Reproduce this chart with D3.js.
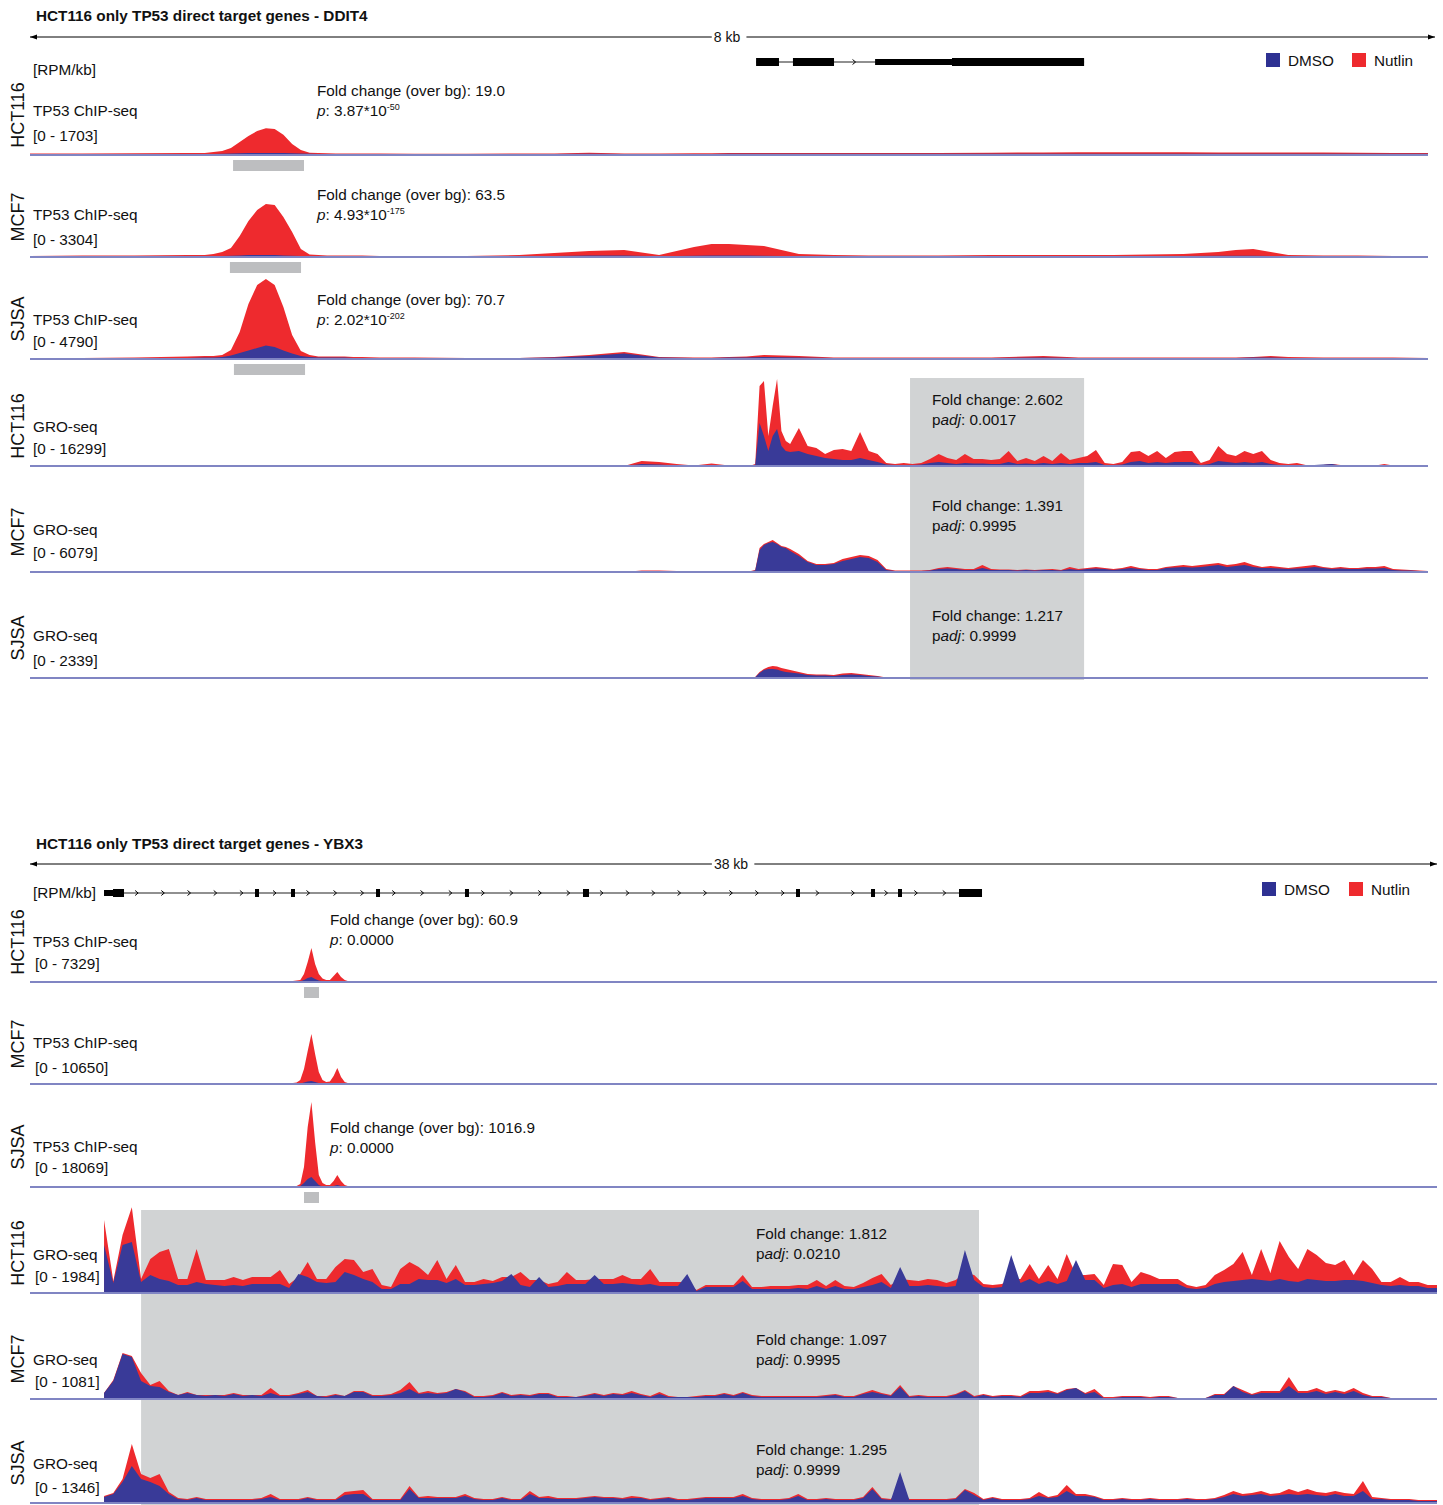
<!DOCTYPE html>
<html>
<head>
<meta charset="utf-8">
<script src="https://cdn.jsdelivr.net/npm/d3@7"></script>
<style>
  body { margin: 0; background: #fff; }
  svg { display: block; font-family: 'Liberation Sans', Arial, sans-serif; }
</style>
</head>
<body>
<div class="Canvas"></div>
<script>
// ---------- DDIT4 region (8 kb), positions in bp from region start, values in RPM/kb ----------
const ddit4Span = 8000;
const ddit4Exons = [[4155, 4286, 'cds'], [4366, 4601, 'cds'], [4836, 5276, 'utr'], [5276, 6032, 'cds']];
const ddit4PeakCalls = [[1162, 1568], [1144, 1551], [1167, 1574]];
const ddit4GroWindow = [5036, 6032];

const ddit4ChipPos = [0,300,600,900,1000,1050,1100,1150,1200,1250,1300,1350,1400,1450,1500,1550,1600,1650,1700,1750,1800,1850,1900,2000,2200,2500,2800,3000,3200,3400,3600,3800,3900,4000,4100,4200,4400,4600,4800,5000,5200,5500,5800,6000,6200,6400,6600,6800,6900,7000,7100,7200,7400,7600,7800,8000];
const ddit4ChipHct116Nutlin = [30,30,35,40,40,58,77,135,250,370,465,520,505,390,215,95,45,40,35,30,30,30,30,30,25,25,30,30,45,30,30,35,35,40,40,40,40,40,40,40,40,45,50,55,55,55,55,50,50,50,50,50,50,45,40,40];
const ddit4ChipHct116Dmso = [20,20,20,20,20,20,25,30,35,38,40,40,40,38,35,30,25,20,20,20,20,20,20,20,20,20,20,20,25,20,20,20,20,25,25,25,25,25,25,25,25,25,25,25,25,25,25,25,25,25,25,25,25,25,25,25];
const ddit4ChipMcf7Nutlin = [38,56,56,75,75,113,188,338,788,1350,1763,1988,1950,1500,938,300,94,75,56,56,56,56,56,38,38,38,75,150,225,263,75,375,488,488,450,413,113,75,56,56,56,75,75,75,75,94,113,188,263,300,188,75,56,56,38,38];
const ddit4ChipMcf7Dmso = [30,30,30,30,30,30,38,45,60,75,75,75,75,60,45,38,30,30,30,30,30,30,30,30,30,30,30,38,56,56,30,45,56,56,56,45,30,30,30,30,30,30,30,30,30,30,38,45,45,45,38,30,30,30,30,30];
const ddit4ChipSjsaNutlin = [54,54,82,136,163,163,218,490,1469,2992,4026,4352,4026,2829,1306,435,218,136,136,136,136,109,109,82,82,54,54,109,218,381,109,82,82,109,136,218,163,82,82,82,82,82,163,82,82,82,82,82,82,109,163,109,82,82,82,54];
const ddit4ChipSjsaDmso = [54,54,54,54,82,82,109,190,326,462,598,734,653,462,300,163,109,82,82,82,82,54,54,54,54,54,54,82,163,300,82,54,54,82,82,109,82,54,54,54,54,54,82,54,54,54,54,54,54,82,82,54,54,54,54,54];

const ddit4GroPos = [0,3000,3400,3500,3600,3700,3800,3900,4000,4100,4125,4150,4175,4200,4225,4250,4275,4300,4325,4350,4400,4450,4500,4550,4600,4650,4700,4750,4800,4850,4900,4950,5000,5050,5100,5150,5200,5250,5300,5350,5400,5450,5500,5550,5600,5650,5700,5750,5800,5850,5900,5950,6000,6050,6100,6150,6200,6250,6300,6350,6400,6450,6500,6550,6600,6650,6700,6750,6800,6850,6900,6950,7000,7050,7100,7150,7200,7250,7300,7350,7400,7450,7500,7550,7600,7650,7700,7750,7800,7850,7900,7950,8000];
const ddit4GroHct116Nutlin = [0,0,0,925,740,370,90,460,90,90,90,370,14800,15725,5550,11100,16095,6475,4625,4070,7030,3700,3330,2220,2960,3145,2775,6290,2775,2220,555,370,555,370,555,1295,2220,1480,1110,2220,1295,1295,1110,1295,2775,925,1480,925,1850,925,2405,1110,1480,1850,2960,555,370,740,2590,2775,1850,2775,1480,2590,2775,2775,555,1110,3700,2220,1850,2775,2220,2775,1110,555,370,555,185,185,185,370,185,90,90,90,90,370,90,55,55,55,55];
const ddit4GroHct116Dmso = [0,0,0,370,280,90,0,185,0,0,0,185,7955,5550,2775,5550,6845,3700,2775,2590,2775,2220,1850,1480,1295,1110,1110,1480,1110,740,280,185,185,185,280,555,740,555,370,555,460,460,370,370,740,370,460,370,555,370,555,370,555,555,740,185,185,280,740,925,555,740,555,740,740,740,185,370,925,740,555,740,555,740,370,185,90,185,90,185,280,370,90,55,55,55,55,55,55,55,55,55,55];
const ddit4GroMcf7Nutlin = [0,0,0,104,104,69,69,69,69,69,69,138,1656,1932,2070,2208,2001,1794,1725,1587,1242,759,552,552,621,897,1035,1173,1104,828,207,104,104,104,104,138,276,345,276,207,207,483,207,173,173,138,173,138,173,207,138,345,207,276,345,276,207,276,414,276,207,207,345,414,483,414,483,552,621,483,552,690,483,345,414,345,276,345,414,483,345,276,345,276,276,345,345,414,207,173,138,104,69];
const ddit4GroMcf7Dmso = [0,0,0,69,69,48,48,48,48,48,48,104,1518,1863,2001,2070,1932,1725,1656,1449,1104,690,483,483,552,759,897,1035,966,690,138,69,69,69,69,104,207,242,207,138,138,276,138,138,138,104,138,104,138,138,104,207,138,207,242,207,138,207,276,207,138,138,276,311,345,311,345,414,483,345,414,483,345,276,276,242,207,242,276,345,276,207,242,207,207,242,242,276,138,104,104,69,48];
const ddit4GroSjsaNutlin = [0,0,0,8,8,8,8,8,8,8,8,27,160,239,293,319,306,266,239,213,160,106,93,93,80,120,133,106,80,53,13,8,8,8,8,8,8,8,8,8,8,8,8,8,8,8,8,8,8,8,8,8,8,8,8,8,8,8,8,8,8,8,8,8,8,8,8,8,8,8,8,8,8,8,8,8,8,8,8,8,8,8,8,8,8,8,8,8,8,8,8,8,8];
const ddit4GroSjsaDmso = [0,0,0,8,8,8,8,8,8,8,8,20,133,213,239,239,226,186,160,146,120,80,67,67,53,80,93,80,53,40,8,8,8,8,8,8,8,8,8,8,8,8,8,8,8,8,8,8,8,8,8,8,8,8,8,8,8,8,8,8,8,8,8,8,8,8,8,8,8,8,8,8,8,8,8,8,8,8,8,8,8,8,8,8,8,8,8,8,8,8,8,8,8];

// ---------- YBX3 region (38 kb) ----------
const ybx3Span = 38000;
const ybx3Exons = [[1999, 2242, 'utr'], [2242, 2539, 'cds'], [6077, 6185, 'cds'], [7049, 7157, 'cds'], [9345, 9453, 'cds'], [11748, 11856, 'cds'], [14935, 15098, 'cds'], [20688, 20796, 'cds'], [22714, 22822, 'cds'], [23443, 23551, 'cds'], [25090, 25712, 'cds']];
const ybx3PeakCalls = [[7400, 7805], null, [7400, 7805]];
const ybx3GroWindow = [3000, 25630];

const ybx3ChipPos = [0,2000,4000,6000,6800,7000,7100,7200,7300,7400,7500,7600,7700,7800,7900,8000,8100,8200,8300,8400,8500,8600,8800,9000,10000,12000,15000,20000,25000,30000,35000,38000];
const ybx3ChipHct116Nutlin = [43,43,43,60,68,85,85,128,170,682,1704,2897,1534,682,298,170,170,511,852,426,170,68,43,43,43,43,43,43,43,43,43,43];
const ybx3ChipHct116Dmso = [43,43,43,43,43,43,43,43,60,170,341,426,256,128,60,43,43,43,85,43,43,43,43,43,43,43,43,43,43,43,43,43];
const ybx3ChipMcf7Nutlin = [62,62,62,74,87,124,124,186,495,1857,4085,6190,3714,1486,495,248,310,990,1981,867,248,87,62,62,62,62,62,62,62,62,62,62];
const ybx3ChipMcf7Dmso = [62,62,62,62,62,62,62,62,74,186,310,371,248,124,74,62,62,62,74,62,62,62,62,62,62,62,62,62,62,62,62,62];
const ybx3ChipSjsaNutlin = [105,105,105,126,147,168,168,210,630,4200,12600,17850,9450,2520,840,420,420,1260,2520,1260,420,147,105,105,105,105,105,105,105,105,105,105];
const ybx3ChipSjsaDmso = [105,105,105,105,105,105,105,105,210,840,1680,2100,1260,420,105,105,105,210,420,210,105,105,105,105,105,105,105,105,105,105,105,105];

// GRO-seq, 250 bp bins starting at 2 kb
const ybx3GroBinStart = 2000;
const ybx3GroBinSize = 250;
const ybx3GroHct116Nutlin = [
  1686,277,1340,1980,323,785,947,1016,323,323,
  1016,300,300,300,370,300,370,370,370,531,
  208,370,716,323,323,601,785,762,485,554,
  185,139,554,716,601,416,762,323,647,254,
  254,323,277,370,370,485,300,300,208,254,
  485,300,300,323,323,323,416,323,323,554,
  254,254,254,254,69,185,185,185,185,416,
  139,139,162,162,162,185,185,300,162,300,
  162,139,231,347,439,185,323,300,277,323,
  300,231,300,462,416,208,185,208,323,323,
  670,323,647,323,901,416,416,439,185,670,
  647,254,485,416,323,323,323,185,139,185,
  416,531,670,947,416,1016,462,1201,832,554,
  1016,878,693,647,762,416,762,554,254,254,
  370,254,254,185,185];
const ybx3GroHct116Dmso = [
  1109,231,1109,1178,254,416,323,277,185,185,
  254,208,185,162,185,162,208,208,208,208,
  116,439,370,254,231,254,485,416,323,254,
  92,92,208,208,323,300,300,231,323,185,
  185,208,231,277,439,185,139,370,139,162,
  208,208,208,416,208,208,231,208,185,208,
  162,162,162,439,46,139,139,139,139,277,
  92,92,92,92,92,116,92,162,92,162,
  92,92,139,185,254,116,601,162,162,185,
  162,139,162,993,300,139,116,139,878,231,
  323,208,277,208,277,762,300,300,116,185,
  208,139,208,208,208,208,208,116,92,116,
  208,254,277,300,323,300,277,323,277,254,
  323,300,277,277,300,300,277,231,185,162,
  185,162,162,116,116];
const ybx3GroMcf7Nutlin = [
  75,239,578,541,327,176,226,101,50,88,
  50,50,50,50,75,50,50,50,138,50,
  50,75,113,38,38,63,38,101,101,50,
  50,63,113,214,75,101,75,88,126,101,
  38,38,50,88,50,63,50,75,75,38,
  38,25,50,75,50,75,63,101,63,38,
  88,38,25,25,38,50,50,75,50,88,
  50,38,38,38,38,38,38,38,50,63,
  38,38,75,113,75,50,176,38,50,38,
  38,38,63,113,38,63,38,50,50,38,
  101,101,113,75,126,138,75,126,25,25,
  38,38,38,25,38,38,13,13,13,13,
  63,63,163,113,63,101,101,101,277,101,
  101,138,88,113,88,138,75,38,38,13,
  13,13,13,13,13];
const ybx3GroMcf7Dmso = [
  75,226,566,528,226,163,151,88,50,75,
  50,38,50,38,63,38,50,38,75,38,
  38,63,88,38,25,50,38,88,88,38,
  38,50,75,126,63,75,63,75,126,88,
  25,25,38,75,38,50,38,63,63,25,
  25,25,38,63,38,63,50,75,50,25,
  63,25,25,25,25,38,38,63,38,75,
  38,25,25,25,25,25,25,25,38,50,
  25,25,63,88,63,38,151,25,38,25,
  25,25,50,101,25,50,25,38,38,25,
  75,75,88,63,113,138,63,88,13,13,
  25,25,25,13,25,25,13,13,13,13,
  50,50,163,88,50,75,75,75,163,75,
  75,101,63,88,63,101,50,25,25,13,
  13,13,13,13,13];
const ybx3GroSjsaNutlin = [
  110,157,376,923,454,391,454,172,78,63,
  94,63,63,63,63,63,63,78,141,63,
  63,63,94,63,63,63,172,188,203,63,
  63,63,63,266,94,110,94,94,94,141,
  78,63,63,94,63,63,188,94,110,78,
  78,78,94,110,94,94,78,110,94,63,
  78,94,63,63,78,94,94,94,94,141,
  78,63,63,63,78,141,63,63,78,63,
  63,63,94,250,78,63,219,63,63,63,
  63,63,78,219,157,63,94,63,63,63,
  78,172,94,125,282,141,141,110,63,63,
  78,63,63,78,63,63,63,78,63,63,
  78,125,188,141,157,188,141,157,219,172,
  219,172,157,188,157,141,344,94,78,63,
  63,63,47,47,47];
const ybx3GroSjsaDmso = [
  94,141,329,579,376,329,266,141,63,47,
  78,47,47,47,47,47,47,63,94,47,
  47,47,78,47,47,47,125,141,141,47,
  47,47,47,219,78,78,78,78,78,110,
  63,47,47,78,47,47,141,78,78,63,
  63,63,78,94,78,78,63,78,78,47,
  63,78,47,47,63,78,78,78,78,110,
  63,47,47,47,63,110,47,47,63,47,
  47,47,78,219,63,47,485,47,47,47,
  47,47,63,203,125,47,78,47,47,47,
  63,110,78,94,188,110,110,94,47,47,
  63,47,47,63,47,47,47,63,47,47,
  63,94,141,110,125,141,110,125,141,125,
  141,125,110,141,110,110,188,63,63,47,
  47,47,31,31,31];

// ---------- drawing ----------
const width = 1443;
const height = 1505;
const fontSize = 15.3;
const nutlinColor = '#ee2a2e';
const dmsoColor = '#393a98';
const legendDmso = '#2e3192';
const baseColor = '#8085c3';
const boxColor = '#d1d3d4';
const peakColor = '#bdbec0';
const textColor = '#111';

const ybx3Bins = ybx3GroHct116Nutlin.map((d, i) => ybx3GroBinStart + i * ybx3GroBinSize);

const panels = [
  {
    title: 'HCT116 only TP53 direct target genes - DDIT4',
    scaleLabel: '8 kb', labelX: 727, span: ddit4Span,
    x0: 30, x1: 1428, barEnd: 1435,
    titleY: 21, scaleY: 37, geneY: 62, legendY: 53, legendX: [1266, 1352], rpmY: 75,
    trackH: 88, boxTop: 88, rangeX: 33,
    exons: ddit4Exons, groWindow: ddit4GroWindow,
    chipAnnX: 317, groAnnX: 932,
    tracks: [
      { cell: 'HCT116', name: 'TP53 ChIP-seq', max: 1703, base: 155, pos: ddit4ChipPos, nutlin: ddit4ChipHct116Nutlin, dmso: ddit4ChipHct116Dmso, peak: ddit4PeakCalls[0], nameDy: -39, rangeDy: -14,
        ann: { dy: -59, l1: 'Fold change (over bg): 19.0', l2: [['p', 'i'], [': 3.87*10'], ['-50', 'sup']] } },
      { cell: 'MCF7', name: 'TP53 ChIP-seq', max: 3304, base: 257, pos: ddit4ChipPos, nutlin: ddit4ChipMcf7Nutlin, dmso: ddit4ChipMcf7Dmso, peak: ddit4PeakCalls[1], nameDy: -37, rangeDy: -12,
        ann: { dy: -57, l1: 'Fold change (over bg): 63.5', l2: [['p', 'i'], [': 4.93*10'], ['-175', 'sup']] } },
      { cell: 'SJSA', name: 'TP53 ChIP-seq', max: 4790, base: 359, pos: ddit4ChipPos, nutlin: ddit4ChipSjsaNutlin, dmso: ddit4ChipSjsaDmso, peak: ddit4PeakCalls[2], nameDy: -34, rangeDy: -12,
        ann: { dy: -54, l1: 'Fold change (over bg): 70.7', l2: [['p', 'i'], [': 2.02*10'], ['-202', 'sup']] } },
      { cell: 'HCT116', name: 'GRO-seq', gro: true, max: 16299, base: 466, pos: ddit4GroPos, nutlin: ddit4GroHct116Nutlin, dmso: ddit4GroHct116Dmso, nameDy: -34, rangeDy: -12,
        ann: { dy: -61, l1: 'Fold change: 2.602', l2: [['p'], ['adj', 'i'], [': 0.0017']] } },
      { cell: 'MCF7', name: 'GRO-seq', gro: true, max: 6079, base: 572, pos: ddit4GroPos, nutlin: ddit4GroMcf7Nutlin, dmso: ddit4GroMcf7Dmso, nameDy: -37, rangeDy: -14,
        ann: { dy: -61, l1: 'Fold change: 1.391', l2: [['p'], ['adj', 'i'], [': 0.9995']] } },
      { cell: 'SJSA', name: 'GRO-seq', gro: true, max: 2339, base: 678, pos: ddit4GroPos, nutlin: ddit4GroSjsaNutlin, dmso: ddit4GroSjsaDmso, nameDy: -37, rangeDy: -12,
        ann: { dy: -57, l1: 'Fold change: 1.217', l2: [['p'], ['adj', 'i'], [': 0.9999']] } }
    ]
  },
  {
    title: 'HCT116 only TP53 direct target genes - YBX3',
    scaleLabel: '38 kb', labelX: 731, span: ybx3Span,
    x0: 30, x1: 1437, barEnd: 1437,
    titleY: 849, scaleY: 864, geneY: 893, legendY: 882, legendX: [1262, 1349], rpmY: 898,
    trackH: 86, boxTop: 83, rangeX: 35,
    exons: ybx3Exons, groWindow: ybx3GroWindow,
    chipAnnX: 330, groAnnX: 756,
    tracks: [
      { cell: 'HCT116', name: 'TP53 ChIP-seq', max: 7329, base: 982, pos: ybx3ChipPos, nutlin: ybx3ChipHct116Nutlin, dmso: ybx3ChipHct116Dmso, peak: ybx3PeakCalls[0], nameDy: -35, rangeDy: -13,
        ann: { dy: -57, l1: 'Fold change (over bg): 60.9', l2: [['p', 'i'], [': 0.0000']] } },
      { cell: 'MCF7', name: 'TP53 ChIP-seq', max: 10650, base: 1084, pos: ybx3ChipPos, nutlin: ybx3ChipMcf7Nutlin, dmso: ybx3ChipMcf7Dmso, peak: ybx3PeakCalls[1], nameDy: -36, rangeDy: -11 },
      { cell: 'SJSA', name: 'TP53 ChIP-seq', max: 18069, base: 1187, pos: ybx3ChipPos, nutlin: ybx3ChipSjsaNutlin, dmso: ybx3ChipSjsaDmso, peak: ybx3PeakCalls[2], nameDy: -35, rangeDy: -14,
        ann: { dy: -54, l1: 'Fold change (over bg): 1016.9', l2: [['p', 'i'], [': 0.0000']] } },
      { cell: 'HCT116', name: 'GRO-seq', gro: true, max: 1984, base: 1293, pos: ybx3Bins, nutlin: ybx3GroHct116Nutlin, dmso: ybx3GroHct116Dmso, nameDy: -33, rangeDy: -11,
        ann: { dy: -54, l1: 'Fold change: 1.812', l2: [['p'], ['adj', 'i'], [': 0.0210']] } },
      { cell: 'MCF7', name: 'GRO-seq', gro: true, max: 1081, base: 1399, pos: ybx3Bins, nutlin: ybx3GroMcf7Nutlin, dmso: ybx3GroMcf7Dmso, nameDy: -34, rangeDy: -12,
        ann: { dy: -54, l1: 'Fold change: 1.097', l2: [['p'], ['adj', 'i'], [': 0.9995']] } },
      { cell: 'SJSA', name: 'GRO-seq', gro: true, max: 1346, base: 1503, pos: ybx3Bins, nutlin: ybx3GroSjsaNutlin, dmso: ybx3GroSjsaDmso, nameDy: -34, rangeDy: -10,
        ann: { dy: -48, l1: 'Fold change: 1.295', l2: [['p'], ['adj', 'i'], [': 0.9999']] } }
    ]
  }
];

const svg = d3.select('.Canvas').append('svg').attr('width', width).attr('height', height);
svg.append('rect').attr('width', width).attr('height', height).attr('fill', '#fff');

const addText = (g, x, y, str, size, opts = {}) =>
  g.append('text')
    .attr('x', x).attr('y', y)
    .attr('font-size', size + 'px')
    .attr('font-weight', opts.bold ? 'bold' : null)
    .attr('text-anchor', opts.anchor || 'start')
    .attr('fill', textColor)
    .text(str);

const drawScaleBar = (g, p) => {
  const y = p.scaleY;
  g.append('line').attr('x1', p.x0).attr('x2', p.barEnd).attr('y1', y).attr('y2', y)
    .attr('stroke', '#000').attr('stroke-width', 1);
  g.append('path').attr('d', `M${p.x0},${y} l7,-2.5 l0,5 z`).attr('fill', '#000');
  g.append('path').attr('d', `M${p.barEnd},${y} l-7,-2.5 l0,5 z`).attr('fill', '#000');
  const gap = g.append('rect').attr('fill', '#fff');
  const label = addText(g, p.labelX, y + 5, p.scaleLabel, 14, { anchor: 'middle' });
  const bb = label.node().getBBox();
  gap.attr('x', bb.x - 2).attr('y', y - 3).attr('width', bb.width + 8).attr('height', 6);
};

const drawGene = (g, p, x) => {
  const y = p.geneY;
  const ex = p.exons;
  g.append('line').attr('x1', x(ex[0][0])).attr('x2', x(ex[ex.length - 1][1]))
    .attr('y1', y).attr('y2', y).attr('stroke', '#222').attr('stroke-width', 1.2);
  // direction chevrons in the introns
  for (let i = 0; i < ex.length - 1; i++) {
    const a = ex[i][1], b = ex[i + 1][0];
    const len = b - a;
    if (len < 150) continue;
    const n = Math.max(1, Math.floor(len / 660));
    for (let k = 0; k < n; k++) {
      const cx = x(a + (len * (k + 0.5)) / n);
      g.append('path').attr('d', `M${cx - 2},${y - 2.5} L${cx + 1},${y} L${cx - 2},${y + 2.5}`)
        .attr('fill', 'none').attr('stroke', '#000').attr('stroke-width', 1);
    }
  }
  g.selectAll('rect.exon').data(ex).enter().append('rect')
    .attr('class', 'exon')
    .attr('x', (d) => x(d[0]))
    .attr('width', (d) => Math.max(3, x(d[1]) - x(d[0])))
    .attr('y', (d) => y - (d[2] === 'utr' ? 3 : 4))
    .attr('height', (d) => (d[2] === 'utr' ? 6 : 8))
    .attr('fill', '#000');
};

const drawLegend = (g, p) => {
  const items = [['DMSO', legendDmso], ['Nutlin', nutlinColor]];
  items.forEach((it, i) => {
    const lx = p.legendX[i];
    g.append('rect').attr('x', lx).attr('y', p.legendY).attr('width', 14).attr('height', 14).attr('fill', it[1]);
    addText(g, lx + 22, p.legendY + 13, it[0], fontSize);
  });
};

const drawAnn = (g, x, y, ann) => {
  addText(g, x, y, ann.l1, fontSize);
  const t = g.append('text').attr('x', x).attr('y', y + 20).attr('font-size', fontSize + 'px').attr('fill', textColor);
  ann.l2.forEach((seg) => {
    const s = t.append('tspan').text(seg[0]);
    if (seg[1] === 'i') s.attr('font-style', 'italic');
    if (seg[1] === 'sup') s.attr('font-size', '9px').attr('dy', -6);
  });
};

panels.forEach((p) => {
  const g = svg.append('g');
  const x = d3.scaleLinear().domain([0, p.span]).range([p.x0, p.x1]);

  addText(g, 36, p.titleY, p.title, fontSize, { bold: true });
  drawScaleBar(g, p);
  drawGene(g, p, x);
  drawLegend(g, p);
  addText(g, 33, p.rpmY, '[RPM/kb]', fontSize);

  // GRO-seq gene-body window
  const groTracks = p.tracks.filter((t) => t.gro);
  const boxY0 = groTracks[0].base - p.boxTop;
  const boxY1 = groTracks[groTracks.length - 1].base;
  g.append('rect')
    .attr('x', x(p.groWindow[0])).attr('width', x(p.groWindow[1]) - x(p.groWindow[0]))
    .attr('y', boxY0).attr('height', boxY1 - boxY0 + 2)
    .attr('fill', boxColor);

  p.tracks.forEach((t) => {
    const y = d3.scaleLinear().domain([0, t.max]).range([t.base, t.base - p.trackH]).clamp(true);
    const rows = t.pos.map((pos, i) => ({ pos, n: t.nutlin[i], d: t.dmso[i] }));
    const area = (key) => d3.area().x((r) => x(r.pos)).y0(t.base).y1((r) => y(r[key]));

    if (t.peak) {
      g.append('rect').attr('x', x(t.peak[0])).attr('width', x(t.peak[1]) - x(t.peak[0]))
        .attr('y', t.base + 5).attr('height', 11).attr('fill', peakColor);
    }
    g.append('path').datum(rows).attr('fill', nutlinColor).attr('d', area('n'));
    g.append('path').datum(rows).attr('fill', dmsoColor).attr('d', area('d'));
    g.append('line').attr('x1', p.x0).attr('x2', p.x1).attr('y1', t.base).attr('y2', t.base)
      .attr('stroke', baseColor).attr('stroke-width', 2);

    g.append('text')
      .attr('transform', `translate(24,${t.base - 40}) rotate(-90)`)
      .attr('text-anchor', 'middle').attr('font-size', '18px').attr('fill', textColor)
      .text(t.cell);
    addText(g, 33, t.base + t.nameDy, t.name, fontSize);
    addText(g, p.rangeX, t.base + t.rangeDy, `[0 - ${t.max}]`, fontSize);
    if (t.ann) drawAnn(g, t.gro ? p.groAnnX : p.chipAnnX, t.base + t.ann.dy, t.ann);
  });
});
</script>
</body>
</html>
